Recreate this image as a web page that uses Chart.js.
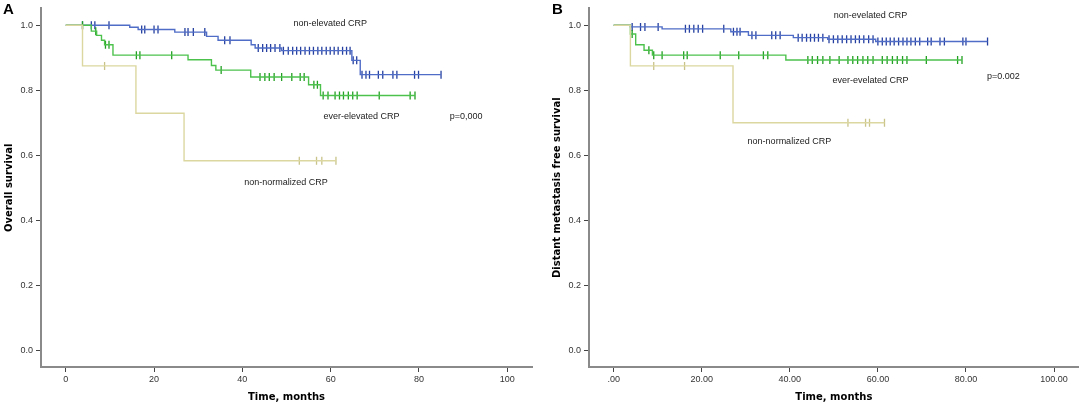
<!DOCTYPE html>
<html>
<head>
<meta charset="utf-8">
<script src="https://cdn.jsdelivr.net/npm/chart.js@4.4.1/dist/chart.umd.min.js"></script>
<style>
  body { margin: 0; background: #fff; }
  #wrap { position: relative; width: 1084px; height: 410px; }
  canvas { position: absolute; top: 0; }
  #chartA { left: 0; }
  #chartB { left: 542px; }
</style>
</head>
<body>
<div id="wrap">
  <canvas id="chartA" width="542" height="410"></canvas>
  <canvas id="chartB" width="542" height="410"></canvas>
</div>
<script>
// tick values / labels
const yTicks = [0, 0.2, 0.4, 0.6, 0.8, 1.0];
const xTicks = [0, 20, 40, 60, 80, 100];
const xLabelsA = ["0", "20", "40", "60", "80", "100"];
const xLabelsB = [".00", "20.00", "40.00", "60.00", "80.00", "100.00"];

// Panel A - overall survival (event times, survival after event, censored times)
const blueA_t = [0, 14.5, 16.4, 24.7, 31.9, 34.5, 42, 42.9, 48.9, 64.8, 66.7];
const blueA_s = [1, 0.994, 0.987, 0.979, 0.966, 0.954, 0.94, 0.93, 0.922, 0.892, 0.848];
const blueA_c = [3.8, 5.8, 6.6, 9.8, 17.2, 17.9, 20, 20.9, 27, 27.7, 28.9, 31.5, 36, 37.2,
  43.6, 44.6, 45.5, 46.4, 47.4, 48.5, 49.3, 50.4, 51.4, 52.3, 53.2, 54.2, 55.2, 56.1, 57.1,
  58, 59, 59.9, 60.8, 61.7, 62.7, 63.6, 64.4, 65.1, 65.9, 67.1, 68, 68.8, 70.8, 71.8, 74.1,
  75, 79, 79.9, 85];
const greenA_t = [0, 5.8, 7, 8.1, 8.8, 10.7, 27.7, 33, 34, 41.9, 55, 57.7];
const greenA_s = [1, 0.982, 0.969, 0.954, 0.94, 0.908, 0.894, 0.876, 0.862, 0.841, 0.817, 0.784];
const greenA_c = [3.8, 6.8, 9, 9.8, 16, 16.8, 24, 35.2, 44, 45.1, 46.1, 47.2, 48.9, 51.2,
  53.1, 54, 56.2, 57, 58.3, 59.4, 61, 62, 62.9, 64, 65, 66, 71, 78, 79.1];
const yellowA_t = [0, 3.8, 15.9, 26.8];
const yellowA_s = [1, 0.875, 0.729, 0.583];
const yellowA_c = [8.8, 52.9, 56.8, 58, 61.2];

// Panel B - distant metastasis free survival
const blueB_t = [0, 3.8, 11, 26.6, 30.6, 40.8, 48.6, 59.5];
const blueB_s = [1, 0.995, 0.989, 0.98, 0.969, 0.962, 0.957, 0.95];
const blueB_c = [4.2, 6.1, 7.1, 10.1, 16.3, 17.2, 18.2, 19.2, 20.2, 25, 27.2, 28, 28.7,
  31.4, 32.3, 35.9, 36.8, 37.8, 41.9, 42.8, 43.8, 44.7, 45.6, 46.5, 47.5, 48.9, 49.9, 50.9,
  51.9, 52.9, 53.9, 54.9, 55.8, 56.8, 57.9, 58.9, 60, 61, 61.9, 62.8, 63.7, 64.7, 65.7,
  66.6, 67.5, 68.5, 69.5, 71.3, 72.1, 74.1, 75.1, 79.3, 80, 84.9];
const greenB_t = [0, 3.8, 5, 6.9, 8.8, 39.1];
const greenB_s = [1, 0.973, 0.94, 0.923, 0.908, 0.893];
const greenB_c = [4.2, 8, 9.1, 11, 15.9, 16.7, 24.2, 28.4, 34, 35, 44.1, 45.1, 46.3, 47.5,
  49.1, 51.2, 53.2, 54.3, 55.4, 56.6, 57.7, 58.9, 61, 62.1, 63.3, 64.4, 65.6, 66.6, 71,
  78.1, 79.1];
const yellowB_t = [0, 3.8, 27.1];
const yellowB_s = [1, 0.875, 0.7];
const yellowB_c = [9.1, 16.1, 53.2, 57.2, 58.1, 61.5];

const BLUE = "#4f6cc6", BLUE_DK = "#2540a0";
const GREEN = "#4cc24c", GREEN_DK = "#22a022";
const YELLOW = "#dcd7a0", YELLOW_DK = "#c9c38a";

function survAt(ts, ss, t) {
  let v = ss[0];
  for (let i = 0; i < ts.length; i++) if (ts[i] <= t) v = ss[i];
  return v;
}

function kmSets(ts, ss, cs, col, dk) {
  const pts = ts.map((t, i) => ({ x: t, y: ss[i] }));
  const end = Math.max(ts[ts.length - 1], cs[cs.length - 1]);
  pts.push({ x: end, y: ss[ss.length - 1] });
  return [
    { type: "line", data: pts, stepped: true, borderColor: col, borderWidth: 1.4,
      pointRadius: 0, fill: false },
    { type: "scatter", data: cs.map(t => ({ x: t, y: survAt(ts, ss, t) })),
      pointStyle: "line", rotation: 90, pointRadius: 4, pointBorderWidth: 1.3,
      borderColor: dk, backgroundColor: dk, pointHoverRadius: 4 }
  ];
}

const notesPlugin = {
  id: "notes",
  afterDraw(chart, args, opts) {
    const c = chart.ctx, xs = chart.scales.x, ys = chart.scales.y;
    c.save();
    c.fillStyle = "#222";
    c.font = '9px "Liberation Sans", Arial, sans-serif';
    c.textAlign = "center";
    c.textBaseline = "middle";
    opts.items.forEach(n => c.fillText(n.text, xs.getPixelForValue(n.t), ys.getPixelForValue(n.s)));
    c.font = 'bold 15px "Liberation Sans", Arial, sans-serif';
    c.textAlign = "left";
    c.fillStyle = "#000";
    c.fillText(opts.letter, opts.lx, 10);
    c.restore();
  }
};

function makeChart(id, sets, xLabels, yTitle, yTitlePad, rightPad, notes, letter, lx) {
  const tickFont = { family: '"Liberation Sans", Arial, sans-serif', size: 9 };
  const titleFont = { family: '"DejaVu Sans", sans-serif', size: 10, weight: "bold" };
  return new Chart(document.getElementById(id), {
    data: { datasets: sets },
    options: {
      responsive: false,
      animation: false,
      devicePixelRatio: 1,
      layout: { padding: { top: 7, right: rightPad, left: 0, bottom: 0 } },
      plugins: {
        legend: { display: false },
        tooltip: { enabled: false },
        notes: { items: notes, letter: letter, lx: lx }
      },
      scales: {
        x: {
          type: "linear", min: -5.6, max: 105.6,
          afterBuildTicks: s => { s.ticks = xTicks.map(v => ({ value: v })); },
          afterFit: s => { s.height = 43; },
          ticks: { callback: (v, i) => xLabels[i], font: tickFont, color: "#333",
            padding: 2, maxRotation: 0, autoSkip: false },
          grid: { drawOnChartArea: false, tickLength: 5, tickColor: "#444", lineWidth: 1 },
          border: { color: "#8a8a8a", width: 2 },
          title: { display: true, text: "Time, months", font: titleFont, color: "#000",
            padding: { top: 0, bottom: 7 } }
        },
        y: {
          type: "linear", min: -0.052, max: 1.052,
          afterBuildTicks: s => { s.ticks = yTicks.map(v => ({ value: v })); },
          afterFit: s => { s.width = id === "chartA" ? 41 : 47; },
          ticks: { callback: v => v.toFixed(1), font: tickFont, color: "#333", padding: 3 },
          grid: { drawOnChartArea: false, tickLength: 5, tickColor: "#444", lineWidth: 1 },
          border: { color: "#8a8a8a", width: 2 },
          title: { display: true, text: yTitle, font: titleFont, color: "#000",
            padding: { top: yTitlePad, bottom: 0 } }
        }
      }
    },
    plugins: [notesPlugin]
  });
}

makeChart("chartA",
  [...kmSets(yellowA_t, yellowA_s, yellowA_c, YELLOW, YELLOW_DK),
   ...kmSets(greenA_t, greenA_s, greenA_c, GREEN, GREEN_DK),
   ...kmSets(blueA_t, blueA_s, blueA_c, BLUE, BLUE_DK)],
  xLabelsA, "Overall survival", 3, 10,
  [{ text: "non-elevated CRP", t: 59.9, s: 1.007 },
   { text: "ever-elevated CRP", t: 67, s: 0.72 },
   { text: "p=0,000", t: 90.7, s: 0.72 },
   { text: "non-normalized CRP", t: 49.9, s: 0.516 }],
  "A", 3);

makeChart("chartB",
  [...kmSets(yellowB_t, yellowB_s, yellowB_c, YELLOW, YELLOW_DK),
   ...kmSets(greenB_t, greenB_s, greenB_c, GREEN, GREEN_DK),
   ...kmSets(blueB_t, blueB_s, blueB_c, BLUE, BLUE_DK)],
  xLabelsB, "Distant metastasis free survival", 9, 4,
  [{ text: "non-evelated CRP", t: 58.3, s: 1.031 },
   { text: "ever-evelated CRP", t: 58.3, s: 0.831 },
   { text: "p=0.002", t: 88.5, s: 0.841 },
   { text: "non-normalized CRP", t: 39.9, s: 0.642 }],
  "B", 10);
</script>
</body>
</html>
